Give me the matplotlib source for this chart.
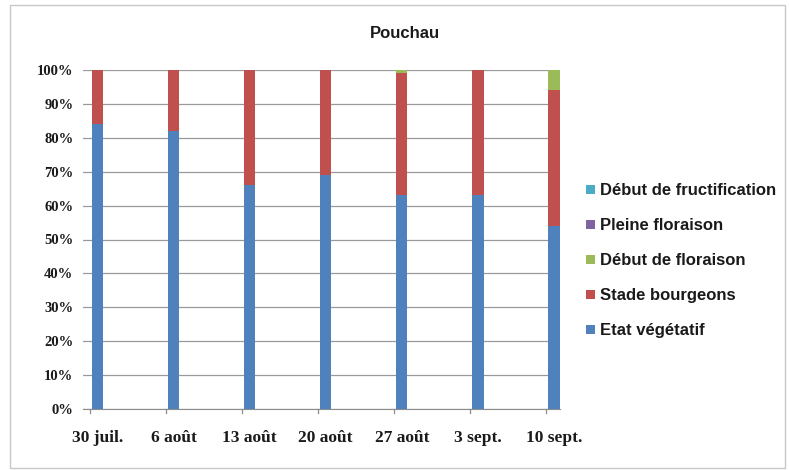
import matplotlib
matplotlib.use("Agg")
import matplotlib.pyplot as plt
from matplotlib.patches import Rectangle
from matplotlib.ticker import FuncFormatter, MultipleLocator
import numpy as np

dates = ["30 juil.", "6 août", "13 août", "20 août", "27 août", "3 sept.", "10 sept."]
etat_vegetatif = [84, 82, 66, 69, 63, 63, 54]
stade_bourgeons = [16, 18, 34, 31, 36, 37, 40]
debut_floraison = [0, 0, 0, 0, 1, 0, 6]
pleine_floraison = [0, 0, 0, 0, 0, 0, 0]
debut_fructification = [0, 0, 0, 0, 0, 0, 0]

series = [
    ("Etat végétatif", etat_vegetatif, "#4F81BD"),
    ("Stade bourgeons", stade_bourgeons, "#C0504D"),
    ("Début de floraison", debut_floraison, "#9BBB59"),
    ("Pleine floraison", pleine_floraison, "#8064A2"),
    ("Début de fructification", debut_fructification, "#4BACC6"),
]

fig = plt.figure(figsize=(7.89, 4.70), dpi=100)
fig.patch.set_facecolor("white")
fig.patches.append(Rectangle((10 / 789, 2 / 470), 775 / 789, 463 / 470,
                             transform=fig.transFigure, fill=False,
                             edgecolor="#c8c8c8", linewidth=1.0))

ax = fig.add_axes([83 / 789, 1 - 409 / 470, (560 - 83) / 789, (409 - 70) / 470])

x = np.arange(len(dates))
bottom = np.zeros(len(dates))
handles = []
for name, vals, color in series:
    vals = np.array(vals, dtype=float)
    h = ax.bar(x, vals, width=0.15, bottom=bottom, color=color, label=name, zorder=3)
    handles.append(h)
    bottom += vals

ax.set_ylim(0, 100)
ax.set_xlim(-0.19, 6.08)
ax.yaxis.set_major_locator(MultipleLocator(10))
ax.yaxis.set_major_formatter(FuncFormatter(lambda v, p: f"{int(round(v))}%"))
ax.grid(axis="y", color="#9a9a9a", linewidth=0.9, zorder=0)
for side in ("top", "right", "left"):
    ax.spines[side].set_visible(False)
ax.spines["bottom"].set_color("#8c8c8c")
ax.tick_params(axis="y", length=0, pad=7)
ax.tick_params(axis="x", length=0, pad=15)
ax.set_xticks(x)
ax.set_xticklabels(dates)
for t in ax.get_xticklabels():
    t.set_fontfamily("Liberation Serif")
    t.set_fontweight("bold")
    t.set_fontsize(12.5)
    t.set_color("#1a1a1a")
for t in ax.get_yticklabels():
    t.set_fontfamily("Liberation Serif")
    t.set_fontweight("bold")
    t.set_fontsize(10.5)
    t.set_color("#1a1a1a")
# small tick marks at the left edge of each day slot
for xi in x:
    ax.plot([xi - 0.1, xi - 0.1], [0, -1.2], color="#8c8c8c", lw=0.9, clip_on=False)

fig.text(405 / 789, 1 - 33 / 470, "Pouchau", ha="center", va="center",
         fontsize=12, fontweight="bold", fontfamily="Liberation Sans", color="#1a1a1a")

leg = fig.legend(handles[::-1], [s[0] for s in series][::-1],
                 loc="upper left", bbox_to_anchor=(578 / 789, 1 - 175 / 470),
                 frameon=False, handlelength=0.5, handleheight=0.5,
                 handletextpad=0.3, labelspacing=1.2, borderpad=0,
                 prop={"family": "Liberation Sans", "weight": "bold", "size": 12})
for t in leg.get_texts():
    t.set_color("#1a1a1a")

fig.savefig("out.png", dpi=100)
